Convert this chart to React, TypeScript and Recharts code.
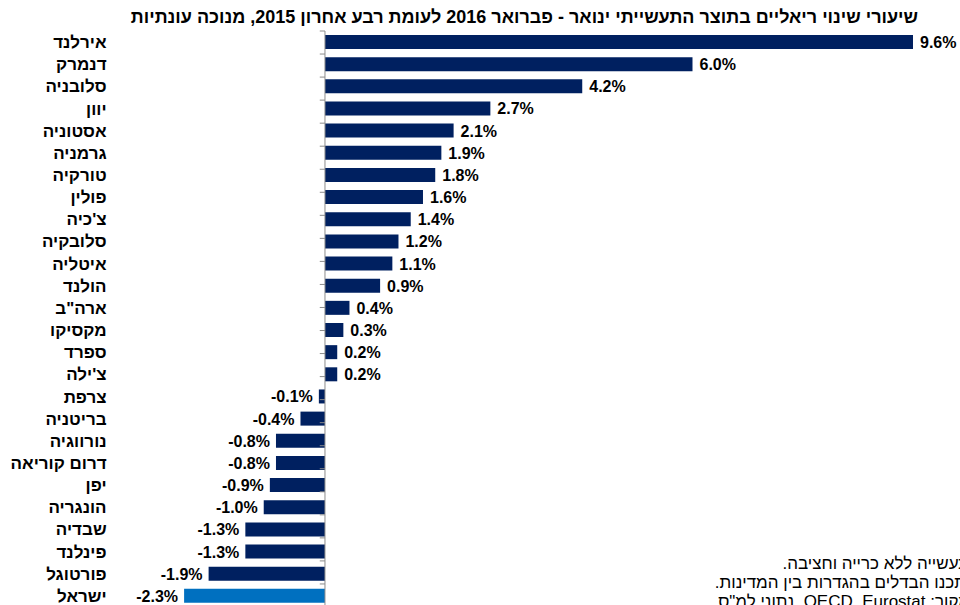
import React from 'react';
import { BarChart, Bar, XAxis, YAxis, Cell, LabelList, ReferenceLine } from 'recharts';

const countries = [
  'אירלנד', 'דנמרק', 'סלובניה', 'יוון', 'אסטוניה', 'גרמניה', 'טורקיה', 'פולין', "צ'כיה",
  'סלובקיה', 'איטליה', 'הולנד', 'ארה"ב', 'מקסיקו', 'ספרד', "צ'ילה", 'צרפת', 'בריטניה',
  'נורווגיה', 'דרום קוריאה', 'יפן', 'הונגריה', 'שבדיה', 'פינלנד', 'פורטוגל', 'ישראל',
];

const growth = [
  9.6, 6.0, 4.2, 2.7, 2.1, 1.9, 1.8, 1.6, 1.4,
  1.2, 1.1, 0.9, 0.4, 0.3, 0.2, 0.2, -0.1, -0.4,
  -0.8, -0.8, -0.9, -1.0, -1.3, -1.3, -1.9, -2.3,
];

const highlight = 'ישראל';

const title =
  'שיעורי שינוי ריאליים בתוצר התעשייתי ינואר - פברואר 2016 לעומת רבע אחרון 2015, מנוכה עונתיות';

const notes = [
  'תעשייה ללא כרייה וחציבה.',
  'יתכנו הבדלים בהגדרות בין המדינות.',
  'מקור: OECD, Eurostat, נתוני למ"ס',
];

const data = countries.map((name, i) => ({ name, value: growth[i] }));
// band edges of the category axis, used for the little ticks on the zero line
const edges = Array.from({ length: countries.length + 1 }, (_, i) => i);

const FONT = '"Liberation Sans", Arial, sans-serif';
const NAVY = '#002060';
const BLUE = '#0070C0';
const AXIS = '#8c8c8c';

function CountryTick(props: any) {
  const { x, y, payload } = props;
  return (
    <text x={x} y={y} dy={6} textAnchor="end" fontFamily={FONT} fontSize={17} fontWeight="bold" fill="#000">
      {payload.value}
    </text>
  );
}

function ValueLabel(props: any) {
  const { x, y, width, height, value } = props;
  const v = Number(value);
  const left = Math.min(x, x + width);
  const right = Math.max(x, x + width);
  const pos = v >= 0 ? right + 7 : left - 6;
  return (
    <text
      x={pos}
      y={y + height / 2}
      dy={6}
      textAnchor={v >= 0 ? 'start' : 'end'}
      fontFamily={FONT}
      fontSize={16}
      fontWeight="bold"
      fill="#000"
    >
      {v.toFixed(1)}%
    </text>
  );
}

export default function App() {
  return (
    <div
      style={{
        position: 'absolute',
        left: 0,
        top: 0,
        width: 960,
        height: 605,
        overflow: 'hidden',
        background: '#fff',
        fontFamily: FONT,
      }}
    >
      <div
        style={{
          position: 'absolute',
          right: 42,
          top: 6,
          direction: 'rtl',
          whiteSpace: 'nowrap',
          fontSize: 18,
          fontWeight: 'bold',
          color: '#000',
          lineHeight: '22px',
        }}
      >
        {title}
      </div>

      <BarChart
        width={960}
        height={620}
        data={data}
        layout="vertical"
        margin={{ top: 31, right: 22.5, bottom: 13, left: 0.6 }}
        barSize={14}
      >
        <XAxis type="number" domain={[-3.5, 10]} hide />
        <YAxis
          type="category"
          dataKey="name"
          width={110}
          axisLine={false}
          tickLine={false}
          tickSize={0}
          tickMargin={4}
          interval={0}
          tick={CountryTick}
        />
        <YAxis yAxisId="grid" type="number" domain={[0, countries.length]} hide reversed />
        <Bar dataKey="value" isAnimationActive={false}>
          {data.map((d) => (
            <Cell key={d.name} fill={d.name === highlight ? BLUE : NAVY} />
          ))}
          <LabelList dataKey="value" content={ValueLabel} />
        </Bar>
        <ReferenceLine x={0} stroke={AXIS} strokeWidth={1} />
        {edges.map((i) => (
          <ReferenceLine
            key={i}
            yAxisId="grid"
            segment={[
              { x: -0.085, y: i },
              { x: 0, y: i },
            ]}
            stroke={AXIS}
            strokeWidth={1}
          />
        ))}
      </BarChart>

      {notes.map((line, i) => (
        <div
          key={i}
          style={{
            position: 'absolute',
            right: -10,
            top: 554 + i * 19,
            direction: 'rtl',
            whiteSpace: 'nowrap',
            fontSize: 17,
            color: '#000',
          }}
        >
          {line}
        </div>
      ))}
    </div>
  );
}
